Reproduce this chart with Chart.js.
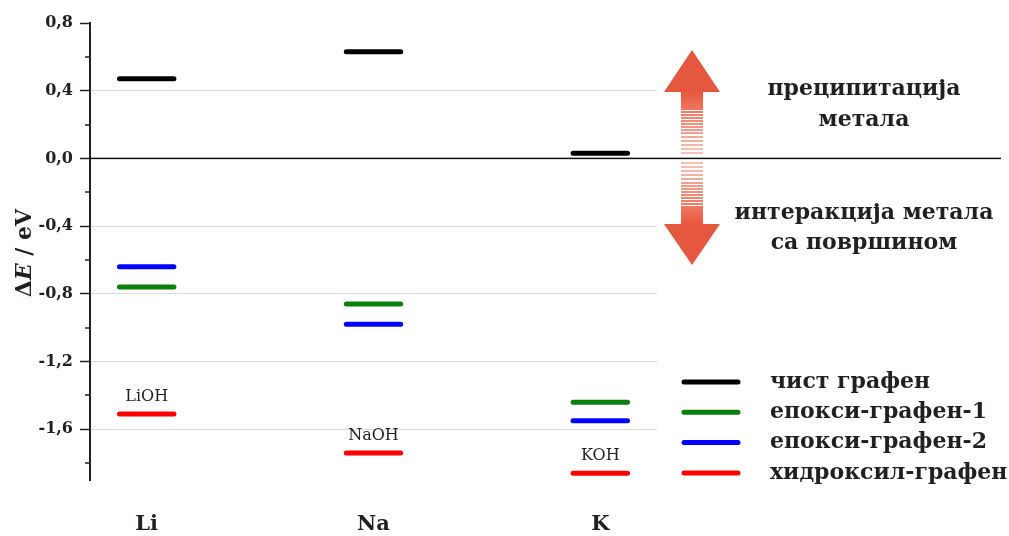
<!DOCTYPE html>
<html>
<head>
<meta charset="utf-8">
<script src="https://cdn.jsdelivr.net/npm/chart.js@4/dist/chart.umd.min.js"></script>
<style>
  html, body { margin: 0; padding: 0; background: #fff; }
  #wrap { width: 1009px; height: 536px; position: relative; }
</style>
</head>
<body>
<div id="wrap"><canvas id="energyChart"></canvas></div>
<script>
// metali (kategorije na x osi)
const metals = ['Li', 'Na', 'K'];
const hydroxides = ['LiOH', 'NaOH', 'KOH'];

// ΔE / eV za svaku površinu
const pristine = [0.47, 0.63, 0.03];
const epoxy1 = [-0.76, -0.86, -1.44];
const epoxy2 = [-0.64, -0.98, -1.55];
const hydroxyl = [-1.51, -1.74, -1.86];

const seriesNames = ['чист графен', 'епокси-графен-1', 'епокси-графен-2', 'хидроксил-графен'];
const seriesColors = ['#000000', '#0a800a', '#0000ff', '#ff0000'];

const yMajorTicks = [-1.6, -1.2, -0.8, -0.4, 0, 0.4, 0.8];
const yMinorTicks = [-1.8, -1.4, -1.0, -0.6, -0.2, 0.2, 0.6];

const SERIF = "'DejaVu Serif', 'Liberation Serif', serif";
const TEXT = '#231f20';
const ARROW = '#e5573f';

// kratke horizontalne linije za svaki nivo energije
function levels(values) {
    const pts = [];
    values.forEach((v, i) => {
        pts.push({ x: i + 1 - 0.12, y: v });
        pts.push({ x: i + 1 + 0.12, y: v });
        pts.push({ x: i + 1.5, y: null });
    });
    return pts;
}

const allSeries = [pristine, epoxy1, epoxy2, hydroxyl];

/**
 * Dodatni crteži: nulta linija, strelica, natpisi, legenda, naslov y ose
 */
const extrasPlugin = {
    id: 'extras',
    beforeDatasetsDraw(chart) {
        const ctx = chart.ctx;
        const y = chart.scales.y;
        const area = chart.chartArea;
        const y0 = y.getPixelForValue(0);

        ctx.save();
        // sporedne crtice na y osi
        ctx.fillStyle = '#222';
        yMinorTicks.forEach(v => {
            const py = Math.round(y.getPixelForValue(v));
            ctx.fillRect(area.left - 5, py - 0.75, 5, 1.5);
        });

        // nulta linija do desne ivice
        ctx.fillStyle = '#111';
        ctx.fillRect(area.left, y0 - 0.75, 1001 - area.left, 1.5);
        ctx.restore();
    },
    afterDraw(chart) {
        const ctx = chart.ctx;
        const x = chart.scales.x;
        const y = chart.scales.y;
        const y0 = Math.round(y.getPixelForValue(0));
        ctx.save();

        // natpisi hidroksida iznad crvenih linija
        ctx.fillStyle = TEXT;
        ctx.font = '16px ' + SERIF;
        ctx.textAlign = 'center';
        ctx.textBaseline = 'middle';
        hydroxides.forEach((h, i) => {
            ctx.fillText(h, x.getPixelForValue(i + 1), y.getPixelForValue(hydroxyl[i]) - 17);
        });

        // dvostruka strelica
        const ax = 692;
        ctx.fillStyle = ARROW;
        ctx.beginPath();
        ctx.moveTo(ax, y0 - 108);
        ctx.lineTo(ax + 28, y0 - 66);
        ctx.lineTo(ax - 28, y0 - 66);
        ctx.closePath();
        ctx.fill();
        ctx.beginPath();
        ctx.moveTo(ax, y0 + 107);
        ctx.lineTo(ax + 28, y0 + 66);
        ctx.lineTo(ax - 28, y0 + 66);
        ctx.closePath();
        ctx.fill();
        // prugasto telo strelice: gusto kod glave, retko i bledo kod nule
        ctx.fillStyle = '#ea5a40';
        let d = 66;
        while (d > 5) {
            const t = (d - 5) / 61;            // 1 kod glave, 0 kod nule
            ctx.globalAlpha = 0.35 + 0.65 * t;
            ctx.fillRect(ax - 11, y0 - d, 22, 2);
            ctx.fillRect(ax - 11, y0 + d - 2, 22, 2);
            d -= t > 0.75 ? 2 : (t > 0.35 ? 3 : 4);
        }
        ctx.globalAlpha = 1;

        // tekst pored strelice
        ctx.fillStyle = TEXT;
        ctx.font = 'bold 22px ' + SERIF;
        ctx.textAlign = 'center';
        ctx.fillText('преципитација', 864, y0 - 69);
        ctx.fillText('метала', 864, y0 - 38);
        ctx.fillText('интеракција метала', 864, y0 + 55);
        ctx.fillText('са површином', 864, y0 + 85);

        // legenda
        seriesNames.forEach((name, i) => {
            const py = 382 + i * 30.3;
            ctx.strokeStyle = seriesColors[i];
            ctx.lineWidth = 5;
            ctx.lineCap = 'round';
            ctx.beginPath();
            ctx.moveTo(684, py);
            ctx.lineTo(738, py);
            ctx.stroke();
            ctx.fillStyle = TEXT;
            ctx.textAlign = 'left';
            ctx.fillText(name, 770, py);
        });

        // naslov y ose: ΔE / eV, E u kurzivu
        ctx.translate(25, 253);
        ctx.rotate(-Math.PI / 2);
        const parts = [
            { t: 'Δ', f: 'bold 22px ' + SERIF },
            { t: 'E', f: 'italic bold 22px ' + SERIF },
            { t: ' / eV', f: 'bold 22px ' + SERIF }
        ];
        let total = 0;
        parts.forEach(p => { ctx.font = p.f; total += ctx.measureText(p.t).width; });
        let cx = -total / 2;
        ctx.textAlign = 'left';
        parts.forEach(p => {
            ctx.font = p.f;
            ctx.fillText(p.t, cx, 0);
            cx += ctx.measureText(p.t).width;
        });
        ctx.restore();
    }
};

new Chart(document.getElementById('energyChart'), {
    type: 'line',
    data: {
        datasets: allSeries.map((vals, i) => ({
            label: seriesNames[i],
            data: levels(vals),
            borderColor: seriesColors[i],
            borderWidth: 5,
            borderCapStyle: 'round',
            pointRadius: 0,
            spanGaps: false,
            fill: false
        }))
    },
    options: {
        responsive: true,
        maintainAspectRatio: false,
        animation: false,
        layout: { padding: { top: 23, right: 352, left: 0, bottom: 0 } },
        plugins: { legend: { display: false }, tooltip: { enabled: false } },
        scales: {
            x: {
                type: 'linear',
                min: 0.75,
                max: 3.25,
                afterBuildTicks: s => { s.ticks = metals.map((m, i) => ({ value: i + 1 })); },
                afterFit: s => { s.height = 56; },
                grid: { display: false, drawTicks: false },
                border: { display: false },
                ticks: {
                    padding: 32,
                    color: TEXT,
                    font: { family: SERIF, size: 21, weight: 'bold' },
                    callback: (v) => metals[Math.round(v) - 1]
                }
            },
            y: {
                min: -1.9,
                max: 0.8,
                afterBuildTicks: s => { s.ticks = yMajorTicks.map(v => ({ value: v })); },
                afterFit: s => { s.width = 90; },
                border: { color: '#222', width: 2 },
                grid: {
                    color: c => (c.tick && (c.tick.value === 0 || c.tick.value === 0.8)) ? 'rgba(0,0,0,0)' : '#dadada',
                    lineWidth: 1,
                    tickLength: 10,
                    tickColor: '#222',
                    tickWidth: 1.5
                },
                ticks: {
                    padding: 7,
                    color: TEXT,
                    font: { family: SERIF, size: 16, weight: 'bold' },
                    callback: v => v.toFixed(1).replace('.', ',')
                }
            }
        }
    },
    plugins: [extrasPlugin]
});
</script>
</body>
</html>
